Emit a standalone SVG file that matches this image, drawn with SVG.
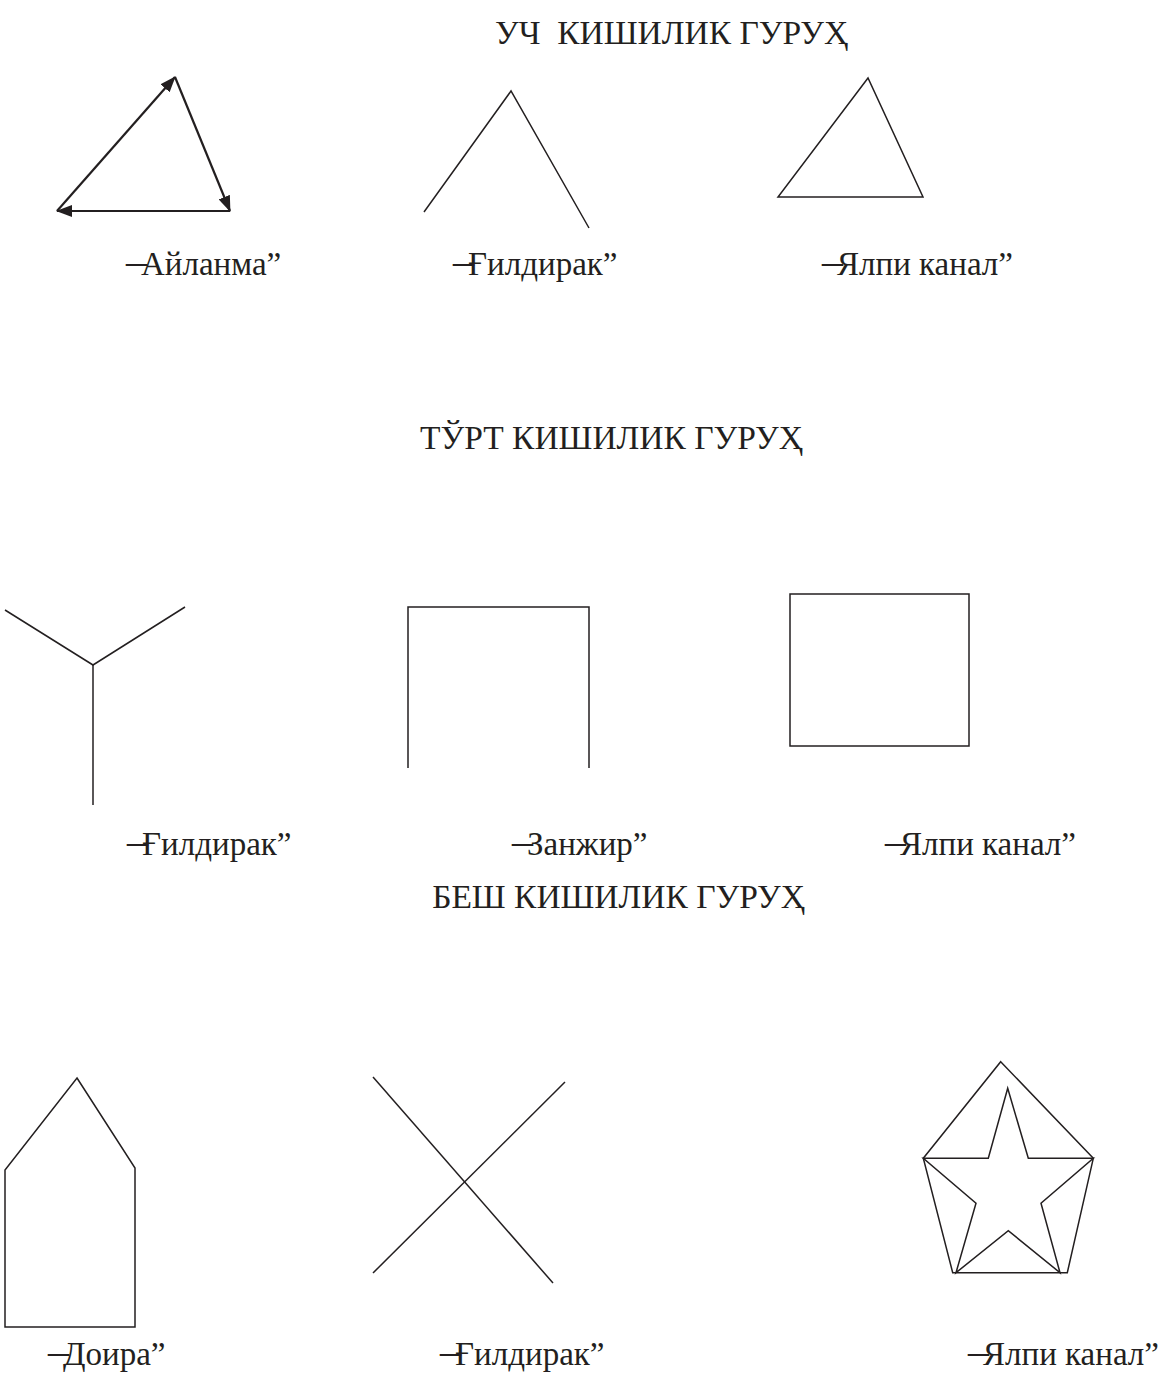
<svg xmlns="http://www.w3.org/2000/svg" width="1163" height="1384" viewBox="0 0 1163 1384">
<style>
  .t { font-family: "Liberation Serif", "DejaVu Serif", serif; font-size: 33px; fill: #231f20; }
  .h { font-size: 33.5px; }
  .d { font-size: 42px; }
  .s { fill: none; stroke: #231f20; stroke-width: 1.5; stroke-linejoin: miter; }
  .a { fill: none; stroke: #231f20; stroke-width: 2.2; }
</style>
<defs>
  <marker id="ah" markerUnits="userSpaceOnUse" markerWidth="16" markerHeight="12" refX="15" refY="6" orient="auto">
    <path d="M0,0 L16,6 L0,12 z" fill="#231f20"/>
  </marker>
</defs>
<rect width="1163" height="1384" fill="#ffffff"/>

<text class="t h" x="495" y="44" xml:space="preserve">УЧ  КИШИЛИК ГУРУҲ</text>
<text class="t h" x="803" y="449" text-anchor="end">ТЎРТ КИШИЛИК ГУРУҲ</text>
<text class="t h" x="805" y="908" text-anchor="end">БЕШ КИШИЛИК ГУРУҲ</text>

<g id="connectors">
  <line class="a" x1="57" y1="211" x2="175" y2="77" marker-end="url(#ah)"/>
  <line class="a" x1="175" y1="77" x2="230" y2="211" marker-end="url(#ah)"/>
  <line class="a" x1="230" y1="211" x2="57" y2="211" marker-end="url(#ah)"/>
</g>

<g id="n1-ailanma">
  <text class="t" x="126" y="275"><tspan class="d">–</tspan><tspan dx="-6">Айланма”</tspan></text>
</g>
<g id="n1-gildirak">
  <polyline class="s" points="424,212 511,91 589,228"/>
  <text class="t" x="453" y="275"><tspan class="d">–</tspan><tspan dx="-6">Ғилдирак”</tspan></text>
</g>
<g id="n1-yalpi">
  <polygon class="s" points="868,78 778,197 923,197"/>
  <text class="t" x="822" y="275"><tspan class="d">–</tspan><tspan dx="-6">Ялпи канал”</tspan></text>
</g>

<g id="n2-gildirak">
  <polyline class="s" points="5,610 93,665 185,607"/>
  <line class="s" x1="93" y1="665" x2="93" y2="805"/>
  <text class="t" x="127" y="855"><tspan class="d">–</tspan><tspan dx="-6">Ғилдирак”</tspan></text>
</g>
<g id="n2-zanjir">
  <polyline class="s" points="408,768 408,607 589,607 589,768"/>
  <text class="t" x="512" y="855"><tspan class="d">–</tspan><tspan dx="-6">Занжир”</tspan></text>
</g>
<g id="n2-yalpi">
  <rect class="s" x="790" y="594" width="179" height="152"/>
  <text class="t" x="885" y="855"><tspan class="d">–</tspan><tspan dx="-6">Ялпи канал”</tspan></text>
</g>

<g id="n3-doira">
  <polygon class="s" points="77,1078 135,1168 135,1327 5,1327 5,1170"/>
  <text class="t" x="48" y="1365"><tspan class="d">–</tspan><tspan dx="-6">Доира”</tspan></text>
</g>
<g id="n3-gildirak">
  <line class="s" x1="373" y1="1077" x2="553" y2="1283"/>
  <line class="s" x1="565" y1="1082" x2="373" y2="1273"/>
  <text class="t" x="440" y="1365"><tspan class="d">–</tspan><tspan dx="-6">Ғилдирак”</tspan></text>
</g>
<g id="n3-yalpi">
  <polygon class="s" points="1000.7,1061.7 1093.3,1158.3 1067.3,1272.7 952.7,1272.7 923.3,1158.3"/>
  <polygon class="s" points="1007.7,1088.3 1028.3,1158.3 1093.3,1158.3 1041,1203.3 1060,1272.7 1008.3,1230.7 956,1272.7 976,1203.3 923.3,1158.3 988.3,1158.3"/>
  <text class="t" x="968" y="1365"><tspan class="d">–</tspan><tspan dx="-6">Ялпи канал”</tspan></text>
</g>
</svg>
